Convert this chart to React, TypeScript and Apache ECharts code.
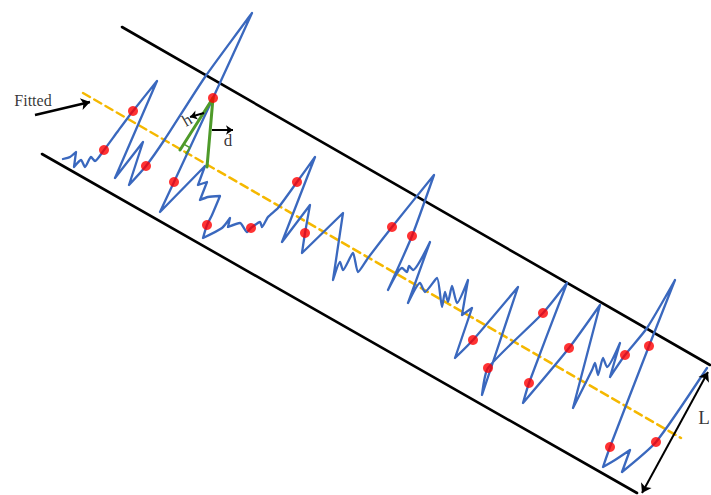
import React, { useEffect, useRef } from "react";
import * as echarts from "echarts";

// Blue profile curve (diagram coordinates: x to the right, y downward)
const curvePoints: number[][] = [
  [63, 159], [70, 157], [76, 152], [74, 167], [81, 160], [85, 167], [91, 157], [95, 161],
  [104, 150], [118, 131], [133, 111], [157, 81], [115, 178], [143, 142], [129, 185],
  [146, 166], [165, 139], [205, 77], [252, 13], [213, 98], [174, 182], [160, 212],
  [205, 166], [198, 185], [207, 182], [200, 200], [208, 197], [220, 196], [212, 215],
  [207, 225], [203, 238], [222, 228], [230, 218], [228, 227], [240, 223], [247, 232],
  [251, 228], [260, 222], [262, 227], [268, 217], [278, 208], [297, 182], [315, 157],
  [282, 242], [310, 205], [305, 233], [302, 253], [343, 213], [333, 280], [340, 262],
  [343, 270], [353, 253], [358, 272], [368, 258], [392, 227], [434, 175], [412, 236],
  [388, 290], [402, 268], [407, 272], [409, 266], [413, 270], [430, 242], [408, 303],
  [420, 283], [425, 292], [437, 278], [442, 307], [445, 292], [448, 302], [452, 286],
  [457, 303], [468, 280], [462, 315], [472, 308], [455, 358], [473, 340], [518, 287],
  [482, 395], [488, 368], [543, 313], [567, 283], [529, 383], [523, 403], [569, 348],
  [600, 305], [573, 408], [592, 370], [595, 363], [598, 375], [603, 358], [607, 367],
  [620, 343], [610, 377], [625, 355], [647, 328], [675, 280], [649, 346], [610, 447],
  [603, 467], [615, 460], [630, 450], [622, 472], [656, 442], [707, 368],
];

// Red sample points
const redDots: number[][] = [
  [104, 150], [133, 111], [146, 166], [174, 182], [213, 98], [207, 225], [251, 228],
  [297, 182], [305, 233], [392, 227], [412, 236], [473, 340], [488, 368], [543, 313],
  [529, 383], [569, 348], [625, 355], [649, 346], [610, 447], [656, 442],
];

// Envelope lines, fitted line and construction lines
const upperBoundary: number[][] = [[122, 27], [710, 365]];
const lowerBoundary: number[][] = [[42, 154], [637, 493]];
const fittedLine: number[][] = [[83, 93], [681, 438]];
const hLine: number[][] = [[213, 98], [180, 150]];
const dLine: number[][] = [[213, 98], [207, 167]];
const rightAngle: number[][] = [[183.8, 144.1], [189.8, 147.6], [186, 153.5]];

// Arrows
const fittedArrow: number[][] = [[35, 115], [90, 102]];
const hArrow: number[][] = [[204, 113], [190, 117]];
const dArrow: number[][] = [[212, 130], [233, 130]];
const lArrow: number[][] = [[708, 372], [642, 493]];

// Labels
const labelTexts = ["Fitted", "h", "d", "L"];
const labelPos: number[][] = [[33, 100], [187, 120], [228, 140], [704, 417]];
const labelSizes = [16, 17, 17, 19];
const labelRot = [0, 30, 0, 0];

const SERIF = "'Liberation Serif', 'Times New Roman', serif";

export default function App() {
  const ref = useRef<HTMLDivElement>(null);

  useEffect(() => {
    if (!ref.current) return;
    const chart = echarts.init(ref.current, undefined, { renderer: "svg" });

    const plainLine = (name: string, data: number[][], color: string, width: number, type: any = "solid", z = 2) => ({
      name,
      type: "line",
      data,
      showSymbol: false,
      symbol: "none",
      silent: true,
      z,
      lineStyle: { color, width, type, cap: "round", join: "round" },
    });

    const arrow = (name: string, coords: number[][], both = false, size = 9, width = 2.5) => ({
      name,
      type: "lines",
      coordinateSystem: "cartesian2d",
      z: 6,
      symbol: both ? ["arrow", "arrow"] : ["none", "arrow"],
      symbolSize: size,
      silent: true,
      lineStyle: { color: "#000", width, opacity: 1, curveness: 0 },
      data: [{ coords }],
    });

    chart.setOption({
      animation: false,
      backgroundColor: "#ffffff",
      grid: { left: 0, right: 0, top: 0, bottom: 0 },
      xAxis: { type: "value", min: 0, max: 711, show: false },
      yAxis: { type: "value", min: 0, max: 495, inverse: true, show: false },
      series: [
        plainLine("upper", upperBoundary, "#000000", 2.6),
        plainLine("lower", lowerBoundary, "#000000", 2.6),
        plainLine("fitted", fittedLine, "#F5B800", 2.5, [8, 5], 3),
        {
          name: "profile",
          type: "line",
          data: curvePoints,
          smooth: 0.2,
          showSymbol: false,
          symbol: "none",
          silent: true,
          z: 4,
          lineStyle: { color: "#3A68BE", width: 2.3, join: "round", cap: "round" },
        },
        plainLine("h", hLine, "#4E9A2A", 3, "solid", 5),
        plainLine("d", dLine, "#4E9A2A", 3, "solid", 5),
        plainLine("rightAngle", rightAngle, "#4E9A2A", 1.6, "solid", 5),
        arrow("fittedArrow", fittedArrow, false, 9, 2.5),
        arrow("hArrow", hArrow, false, 7, 2),
        arrow("dArrow", dArrow, false, 7, 2),
        arrow("lArrow", lArrow, true, 9, 2),
        {
          name: "points",
          type: "scatter",
          data: redDots,
          symbol: "circle",
          symbolSize: 10,
          z: 7,
          silent: true,
          itemStyle: { color: "#FF0000" },
        },
        {
          name: "labels",
          type: "scatter",
          symbolSize: 0,
          z: 8,
          silent: true,
          data: labelTexts.map((t, i) => ({
            value: labelPos[i],
            label: {
              show: true,
              position: "inside",
              formatter: t,
              fontFamily: SERIF,
              fontSize: labelSizes[i],
              color: "#000",
              rotate: labelRot[i],
            },
          })),
        },
      ],
    });

    return () => chart.dispose();
  }, []);

  return (
    <div
      ref={ref}
      style={{ position: "fixed", left: 0, top: 0, width: 711, height: 495, background: "#fff" }}
    />
  );
}
